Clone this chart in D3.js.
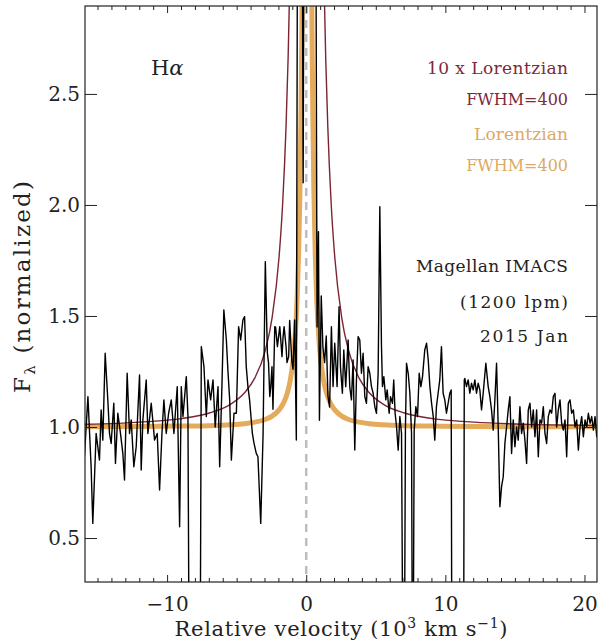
<!DOCTYPE html>
<html><head><meta charset="utf-8">
<script src="https://cdn.jsdelivr.net/npm/d3@7"></script>
<style>body{margin:0;background:#fff} svg{display:block} text{font-family:"DejaVu Serif",serif}</style>
</head><body>
<svg id="c" width="598" height="642"></svg>
<script>
// Observed spectrum (velocity in 10^3 km/s, normalized flux)
const specV = [-15.94,-15.69,-15.46,-15.34,-15.10,-14.86,-14.74,-14.62,-14.45,-14.26,-14.14,-14.02,-13.83,-13.71,-13.54,-13.35,-13.18,-13.06,-12.87,-12.70,-12.58,-12.39,-12.22,-11.98,-11.86,-11.74,-11.50,-11.38,-11.14,-10.90,-10.71,-10.54,-10.37,-10.23,-10.06,-9.89,-9.70,-9.51,-9.27,-9.10,-8.98,-8.86,-8.62,-8.50,-8.43,-7.61,-7.54,-7.35,-7.18,-7.06,-6.87,-6.70,-6.54,-6.34,-6.22,-6.06,-5.92,-5.74,-5.63,-5.50,-5.38,-5.19,-5.02,-4.86,-4.71,-4.55,-4.43,-4.31,-4.19,-4.07,-3.87,-3.75,-3.59,-3.47,-3.27,-3.10,-2.94,-2.79,-2.71,-2.62,-2.55,-2.46,-2.39,-2.26,-2.20,-2.07,-1.90,-1.74,-1.67,-1.59,-1.45,-1.38,-1.26,-1.19,-1.04,-0.95,-0.83,-0.71,-0.62,-0.30,-0.22,-0.15,0.68,0.78,0.88,0.95,1.08,1.20,1.32,1.44,1.56,1.68,1.81,1.93,2.05,2.22,2.36,2.46,2.60,2.70,2.84,3.01,3.13,3.25,3.37,3.49,3.61,3.73,3.85,3.97,4.09,4.21,4.33,4.45,4.57,4.69,4.81,4.93,5.05,5.17,5.29,5.41,5.48,5.58,5.72,5.82,5.96,6.06,6.20,6.29,6.39,6.49,6.61,6.73,6.85,6.93,7.07,7.13,7.21,7.33,7.45,7.57,7.62,7.70,7.76,7.88,8.00,8.12,8.24,8.36,8.52,8.65,8.77,8.89,9.01,9.13,9.24,9.36,9.48,9.60,9.72,9.84,9.96,10.08,10.20,10.32,10.42,10.46,11.32,11.36,11.40,11.52,11.64,11.76,11.88,12.00,12.12,12.24,12.36,12.48,12.60,12.72,12.91,13.08,13.20,13.32,13.44,13.56,13.68,13.80,13.92,14.04,14.16,14.28,14.40,14.52,14.64,14.76,14.88,15.00,15.12,15.24,15.36,15.48,15.60,15.72,15.84,15.96,16.08,16.20,16.32,16.44,16.56,16.68,16.80,16.92,17.04,17.16,17.28,17.40,17.52,17.64,17.76,17.88,18.00,18.12,18.24,18.36,18.48,18.60,18.72,18.84,18.96,19.08,19.20,19.32,19.44,19.56,19.68,19.80,19.92,20.04,20.16,20.28,20.40,20.52,20.64,20.76,20.88,20.98];
const specF = [0.866,1.137,0.821,0.566,0.971,0.851,1.077,0.941,1.332,1.122,0.971,0.926,1.107,0.836,1.062,0.971,0.881,0.761,1.242,0.971,1.032,0.821,0.911,1.234,0.806,1.032,1.212,0.971,1.107,0.941,0.971,0.716,0.971,1.122,0.971,1.062,1.122,0.971,1.182,0.551,1.182,1.047,1.227,1.047,0.10,0.10,1.362,1.272,1.047,1.212,1.122,1.212,1.000,1.182,0.821,1.182,1.527,1.392,1.257,1.122,0.851,1.062,1.062,1.452,1.392,1.482,1.497,1.272,1.182,1.122,0.971,0.926,0.881,0.866,0.566,0.971,1.745,1.332,1.290,1.137,1.180,1.272,1.080,1.452,1.450,1.362,1.452,1.317,1.400,1.452,1.362,1.290,1.317,1.480,1.300,1.260,1.482,0.941,3.6,3.6,2.10,3.6,3.6,1.45,1.88,1.03,1.59,1.36,1.29,1.41,1.14,1.09,1.452,1.182,1.377,1.182,1.542,1.272,1.152,1.347,1.182,1.392,1.182,1.122,1.302,0.896,1.212,1.407,1.392,1.242,1.332,1.137,1.107,1.272,1.242,1.182,1.152,1.092,1.062,1.242,1.992,1.362,1.182,1.227,1.122,1.167,1.062,1.137,1.107,1.212,1.062,1.002,0.896,1.047,0.971,0.10,0.10,0.986,1.287,1.242,1.152,0.971,0.10,0.10,0.986,1.092,1.047,1.242,1.182,1.227,1.347,1.377,1.302,1.182,1.107,1.047,0.941,1.092,1.152,1.212,1.362,1.152,1.122,1.062,1.107,1.152,1.167,0.10,0.10,1.212,1.219,1.182,1.212,1.152,1.197,1.167,1.212,1.152,1.197,1.167,1.077,1.152,1.287,1.182,1.137,1.077,0.986,1.122,1.287,1.000,0.641,0.731,0.776,0.926,1.000,1.077,1.137,0.881,1.032,0.911,1.000,0.941,1.092,0.971,1.017,0.941,0.836,1.077,1.107,1.000,1.077,0.956,1.077,0.866,1.032,1.017,1.092,0.971,0.926,1.047,1.077,1.062,1.137,1.152,1.000,1.077,1.122,1.017,0.986,1.032,0.866,1.107,1.122,1.062,1.077,1.000,1.032,0.896,1.000,1.047,0.956,1.032,1.000,1.062,1.017,1.047,0.986,1.047,0.956,1.000];

// Lorentzian model curves (FWHM = 400 km/s)
const lorV = [-15.95,-11.95,-8.95,-6.95,-5.45,-4.45,-3.70,-2.95,-2.45,-1.95,-1.70,-1.45,-1.30,-1.15,-0.95,-0.80,-0.65,-0.55,-0.45,-0.37,-0.31,-0.25,0.35,0.41,0.47,0.55,0.65,0.75,0.90,1.05,1.25,1.40,1.55,1.80,2.05,2.55,3.05,3.80,4.55,5.55,7.05,9.05,12.05,16.05,21.05];
const lorF = [1.001,1.002,1.004,1.006,1.010,1.015,1.022,1.034,1.049,1.077,1.100,1.135,1.166,1.209,1.298,1.407,1.585,1.775,2.069,2.433,2.828,3.385,3.385,2.828,2.433,2.069,1.775,1.585,1.407,1.298,1.209,1.166,1.135,1.100,1.077,1.049,1.034,1.022,1.015,1.010,1.006,1.004,1.002,1.001,1.001];
const lor10F = [1.012,1.022,1.038,1.063,1.102,1.153,1.220,1.343,1.493,1.767,1.999,2.354,2.664,3.095,3.98,5.07,6.85,8.75,11.69,15.3,19.3,24.8,24.8,19.3,15.3,11.69,8.75,6.85,5.07,3.98,3.095,2.664,2.354,1.999,1.767,1.493,1.343,1.220,1.153,1.102,1.063,1.038,1.022,1.012,1.007];

const xMajor = [-10, 0, 10, 20];
const xTickLabels = ["\u221210", "0", "10", "20"];
const xMinor = d3.range(-15, 21).filter(v => !xMajor.includes(v));
const yMajor = [0.5, 1.0, 1.5, 2.0, 2.5];
const yTickLabels = ["0.5", "1.0", "1.5", "2.0", "2.5"];

const L = 85, R = 597, T = 6, B = 582;
const svg = d3.select("#c");
const x = d3.scaleLinear().domain([-15.9, 20.9]).range([L, R]);
const y = d3.scaleLinear().domain([0.302, 2.896]).range([B, T]);

svg.append("defs").append("clipPath").attr("id", "clip")
  .append("rect").attr("x", L).attr("y", T).attr("width", R - L).attr("height", B - T);

const plot = svg.append("g").attr("clip-path", "url(#clip)");
const line = d3.line().x(d => x(d[0])).y(d => y(d[1]));
const lineSmooth = d3.line().x(d => x(d[0])).y(d => y(d[1])).curve(d3.curveMonotoneX);

plot.append("path").datum(lorV.map((v, i) => [v, lorF[i]]))
  .attr("d", lineSmooth).attr("fill", "none").attr("stroke", "#e4ab5c").attr("stroke-width", 5);
plot.append("path").datum(lorV.map((v, i) => [v, lor10F[i]]))
  .attr("d", lineSmooth).attr("fill", "none").attr("stroke", "#7b2432").attr("stroke-width", 1.4);
plot.append("path").datum(specV.map((v, i) => [v, specF[i]]))
  .attr("d", line).attr("fill", "none").attr("stroke", "#000").attr("stroke-width", 1.4)
  .attr("stroke-linejoin", "round");
plot.append("line").attr("x1", x(0)).attr("x2", x(0)).attr("y1", T).attr("y2", B)
  .attr("stroke", "#bdbdbd").attr("stroke-width", 2.5).attr("stroke-dasharray", "8,6");

// Axes
const ink = "#222";
function style(g) { g.select(".domain").remove(); g.selectAll("line").attr("stroke", ink); }
svg.append("g").attr("transform", `translate(0,${B})`)
  .call(d3.axisBottom(x).tickValues(xMajor).tickSize(-7).tickPadding(15).tickFormat((d, i) => xTickLabels[i]))
  .call(style).call(g => g.selectAll("text").attr("font-size", 20).attr("fill", ink).attr("font-family", "DejaVu Serif"));
svg.append("g").attr("transform", `translate(0,${B})`)
  .call(d3.axisBottom(x).tickValues(xMinor).tickSize(-4).tickFormat(""))
  .call(style);
svg.append("g").attr("transform", `translate(0,${T})`)
  .call(d3.axisTop(x).tickValues(xMajor).tickSize(-7).tickFormat(""))
  .call(style);
svg.append("g").attr("transform", `translate(0,${T})`)
  .call(d3.axisTop(x).tickValues(xMinor).tickSize(-4).tickFormat(""))
  .call(style);
svg.append("g").attr("transform", `translate(${L},0)`)
  .call(d3.axisLeft(y).tickValues(yMajor).tickSize(-12).tickPadding(5).tickFormat((d, i) => yTickLabels[i]))
  .call(style).call(g => g.selectAll("text").attr("font-size", 20).attr("fill", ink).attr("font-family", "DejaVu Serif"));
svg.append("g").attr("transform", `translate(${R},0)`)
  .call(d3.axisRight(y).tickValues(yMajor).tickSize(-12).tickFormat(""))
  .call(style);
svg.append("rect").attr("x", L).attr("y", T).attr("width", R - L).attr("height", B - T)
  .attr("fill", "none").attr("stroke", ink).attr("stroke-width", 1.2);

// Axis titles
const xt = svg.append("text").attr("x", (L + R) / 2).attr("y", 636).attr("text-anchor", "middle")
  .attr("font-size", 21).attr("fill", ink).attr("textLength", 333).attr("lengthAdjust", "spacing");
xt.append("tspan").text("Relative velocity (10");
xt.append("tspan").attr("dy", -8).attr("font-size", 14).text("3");
xt.append("tspan").attr("dy", 8).text(" km s");
xt.append("tspan").attr("dy", -8).attr("font-size", 14).text("\u22121");
xt.append("tspan").attr("dy", 8).text(")");

const yt = svg.append("text").attr("transform", "translate(30,287) rotate(-90)").attr("text-anchor", "middle")
  .attr("font-size", 23).attr("fill", ink).attr("textLength", 212).attr("lengthAdjust", "spacing");
yt.append("tspan").text("F");
yt.append("tspan").attr("dy", 5).attr("font-size", 15).text("\u03bb");
yt.append("tspan").attr("dy", -5).text(" (normalized)");

// Annotations
const ha = svg.append("text").attr("x", 151).attr("y", 75).attr("font-size", 21).attr("fill", ink);
ha.append("tspan").text("H");
ha.append("tspan").attr("font-style", "italic").text("\u03b1");

const notes = [
  {t: "10 x Lorentzian", y: 74, c: "#7b2a38", w: 141, s: 17},
  {t: "FWHM=400", y: 105, c: "#7b2a38", w: null, s: 16},
  {t: "Lorentzian", y: 140, c: "#dcaa63", w: 94, s: 17},
  {t: "FWHM=400", y: 171, c: "#dcaa63", w: null, s: 16},
  {t: "Magellan IMACS", y: 272, c: ink, w: 152, s: 17},
  {t: "(1200 lpm)", y: 308, c: ink, w: 108, s: 17},
  {t: "2015 Jan", y: 342, c: ink, w: 88, s: 17}
];
svg.selectAll("text.note").data(notes).enter().append("text").attr("class", "note")
  .attr("x", 568).attr("y", d => d.y).attr("text-anchor", "end").attr("font-size", d => d.s)
  .attr("textLength", d => d.w).attr("lengthAdjust", "spacing")
  .attr("fill", d => d.c).text(d => d.t);
</script>
</body></html>
